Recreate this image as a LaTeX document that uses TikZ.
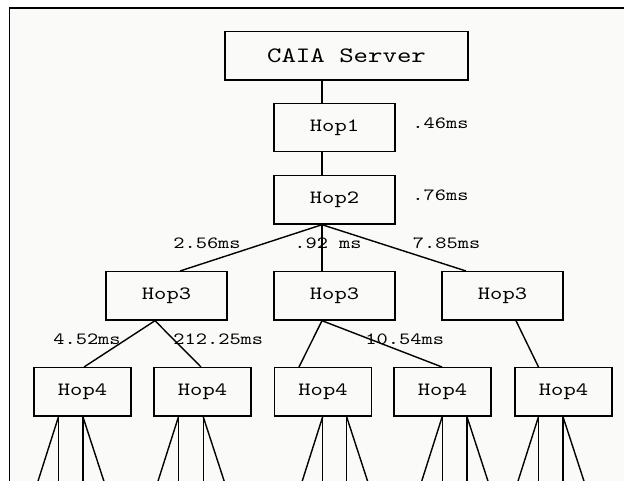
\documentclass[tikz,border=0pt]{standalone}
\usepackage{fontspec}
\newfontfamily\cour[FakeStretch=1.25]{lmmono10-regular.otf}
\usetikzlibrary{calc}
\definecolor{bgc}{RGB}{250,250,249}
\begin{document}
\begin{tikzpicture}[x=1pt,y=-1pt,
  box/.style={draw, line width=1.4pt, rectangle, inner sep=0pt, minimum height=48.3pt, font=\cour\fontsize{18.75}{18.75}\selectfont},
  hopbox/.style={box, minimum width=121pt},
  leafbox/.style={box, minimum width=97pt},
  lbl/.style={font=\cour\fontsize{17.1}{17.1}\selectfont, inner sep=0pt},
  conn/.style={line width=1.4pt}]
\fill[white] (0,0) rectangle (624,481);
\useasboundingbox (0,0) rectangle (624,481);
\fill[bgc] (9.5,8) rectangle (624,481);
\draw[line width=1.5pt] (9.5,482) -- (9.5,8) -- (625,8);

\node[box, minimum width=243pt, font=\cour\fontsize{22}{22}\selectfont] (caia) at (346.5,55.85) {CAIA Server};
\node[hopbox] (hop1) at (334.5,127.5) {Hop1};
\node[hopbox] (hop2) at (334.5,199.85) {Hop2};
\node[hopbox] (h3a) at (166.5,295.85) {Hop3};
\node[hopbox] (h3b) at (334.5,295.85) {Hop3};
\node[hopbox] (h3c) at (502.5,295.85) {Hop3};
\node[leafbox] (h4a) at (82.5,391.85) {Hop4};
\node[leafbox] (h4b) at (202.5,391.85) {Hop4};
\node[leafbox] (h4c) at (323,391.85) {Hop4};
\node[leafbox] (h4d) at (442.5,391.85) {Hop4};
\node[leafbox] (h4e) at (563.5,391.85) {Hop4};

\draw[conn] ([xshift=-24.5pt]caia.south) -- ([xshift=-12.5pt]hop1.north);
\draw[conn] ([xshift=-12.5pt]hop1.south) -- ([xshift=-12.5pt]hop2.north);
\draw[conn] ([xshift=-12.5pt]hop2.south) -- ([xshift=-12.5pt]h3b.north);
\draw[conn] ([xshift=-12.5pt]hop2.south) -- ([xshift=13.5pt]h3a.north);
\draw[conn] ([xshift=-12.5pt]hop2.south) -- ([xshift=-36.5pt]h3c.north);

\draw[conn] ([xshift=-11.5pt]h3a.south) -- ([xshift=1.5pt]h4a.north);
\draw[conn] ([xshift=-11.5pt]h3a.south) -- ([xshift=-1.5pt]h4b.north);
\draw[conn] ([xshift=-12.5pt]h3b.south) -- ([xshift=-24pt]h4c.north);
\draw[conn] ([xshift=-12.5pt]h3b.south) -- ([xshift=-0.5pt]h4d.north);
\draw[conn] ([xshift=13.5pt]h3c.south) -- ([xshift=-25pt]h4e.north);

\foreach \n/\a/\b in {h4a/-24/0.4, h4b/-24/0.7, h4c/-0.3/23.6, h4d/-0.3/24.5, h4e/-25/-0.5}{
  \coordinate (\n-p) at ([xshift=\a pt]\n.south);
  \coordinate (\n-q) at ([xshift=\b pt]\n.south);
  \coordinate (\n-e1) at ($(\n-p)+(-21,66)$);
  \coordinate (\n-e2) at ($(\n-p)+(0,66)$);
  \coordinate (\n-e3) at ($(\n-q)+(0,66)$);
  \coordinate (\n-e4) at ($(\n-q)+(21.5,66)$);
  \draw[conn] (\n-p) -- (\n-e1);
  \draw[conn] (\n-p) -- (\n-e2);
  \draw[conn] (\n-q) -- (\n-e3);
  \draw[conn] (\n-q) -- (\n-e4);
}

\node[lbl] (l1) at (440.5,123) {.46ms};
\node[lbl] (l2) at (440.5,195) {.76ms};
\node[lbl] (l3) at (207,243) {2.56ms};
\node[lbl] (l4) at (328,243) {.92 ms};
\node[lbl] (l5) at (446.6,243) {7.85ms};
\node[lbl] (l6) at (87,339) {4.52ms};
\node[lbl] (l7) at (218.3,339) {212.25ms};
\node[lbl] (l8) at (404.7,339) {10.54ms};
\end{tikzpicture}
\end{document}
